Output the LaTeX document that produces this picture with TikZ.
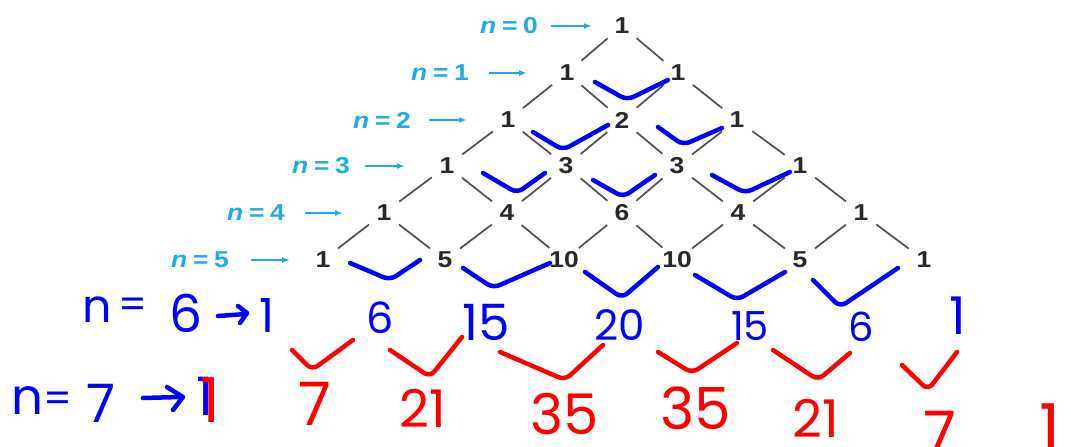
\documentclass[tikz,border=0pt]{standalone}
\usepackage{fontspec}
\usepackage{graphicx}
\setmainfont{Liberation Sans}
\newfontfamily\handfont{Poppins}
\usetikzlibrary{arrows.meta}
\definecolor{cyanlab}{RGB}{30,172,230}
\definecolor{numgray}{RGB}{40,40,40}
\definecolor{edgegray}{RGB}{80,80,80}
\definecolor{penblue}{RGB}{0,0,255}
\definecolor{penred}{RGB}{255,0,0}
\newcommand{\widetxt}[1]{\scalebox{1.15}[1]{#1}}
\begin{document}
\begin{tikzpicture}[x=1pt,y=-1pt,
  num/.style={inner sep=0pt, text=numgray, font=\fontsize{23}{23}\selectfont\bfseries},
  lab/.style={inner sep=0pt, text=cyanlab, font=\fontsize{23}{23}\selectfont\bfseries},
  triline/.style={draw=edgegray, line width=1.7pt, shorten <=19pt, shorten >=19pt},
  labarrow/.style={draw=cyanlab, line width=1.7pt, -{Latex[length=8pt,width=6pt]}},
  bluepen/.style={draw=penblue, line width=4.5pt, line cap=round, line join=round, rounded corners=7pt},
  redpen/.style={draw=penred, line width=4.5pt, line cap=round, line join=round, rounded corners=7pt},
  hb/.style={inner sep=0pt, text=penblue},
  hr/.style={inner sep=0pt, text=penred},
  hf/.style={font=\handfont\fontsize{#1}{#1}\selectfont}]
\clip (0,0) rectangle (1071,447);
\fill[white] (0,0) rectangle (1071,447);

% Pascal triangle numbers
\node[num] (r0-0) at (622,26) {\widetxt{1}};
\node[num] (r1-0) at (567,73) {\widetxt{1}};
\node[num] (r1-1) at (678,73) {\widetxt{1}};
\node[num] (r2-0) at (508,120) {\widetxt{1}};
\node[num] (r2-1) at (622,120) {\widetxt{2}};
\node[num] (r2-2) at (737,120) {\widetxt{1}};
\node[num] (r3-0) at (447,166) {\widetxt{1}};
\node[num] (r3-1) at (566,166) {\widetxt{3}};
\node[num] (r3-2) at (677,166) {\widetxt{3}};
\node[num] (r3-3) at (800,166) {\widetxt{1}};
\node[num] (r4-0) at (384,213) {\widetxt{1}};
\node[num] (r4-1) at (507,213) {\widetxt{4}};
\node[num] (r4-2) at (622,213) {\widetxt{6}};
\node[num] (r4-3) at (738,213) {\widetxt{4}};
\node[num] (r4-4) at (861,213) {\widetxt{1}};
\node[num] (r5-0) at (323,260) {\widetxt{1}};
\node[num] (r5-1) at (445,260) {\widetxt{5}};
\node[num] (r5-2) at (564,260) {\widetxt{10}};
\node[num] (r5-3) at (677,260) {\widetxt{10}};
\node[num] (r5-4) at (800,260) {\widetxt{5}};
\node[num] (r5-5) at (924,260) {\widetxt{1}};

% connecting lines
\foreach \r in {0,...,4} {
  \pgfmathtruncatemacro\rn{\r+1}
  \foreach \k in {0,...,\r} {
    \pgfmathtruncatemacro\kn{\k+1}
    \draw[triline] (r\r-\k.center) -- (r\rn-\k.center);
    \draw[triline] (r\r-\k.center) -- (r\rn-\kn.center);
  }
}

% row labels with arrows
\foreach \r/\lx/\ly/\sst/\sen in {0/509/26/13/30, 1/440/73/20/40, 2/382/120/18/41, 3/321/166/15/42, 4/256/213/20/41, 5/200/260/22/33} {
  \node[lab] (L\r) at (\lx,\ly) {\widetxt{\textit{n}\hspace{5pt}=\hspace{5pt}\r}};
  \draw[labarrow, shorten <=\sst pt, shorten >=\sen pt] (L\r.east) -- (r\r-0.center);
}

% blue hand-drawn checks
\draw[bluepen] (595,82) -- (627,100) -- (668,80);
\draw[bluepen] (533,132) -- (563,150) -- (608,125);
\draw[bluepen] (658,127) -- (683,145) -- (722,128);
\draw[bluepen] (483,173) -- (517,193) -- (545,173);
\draw[bluepen] (593,180) -- (623,197) -- (655,175);
\draw[bluepen] (712,175) -- (745,193) -- (790,172);
\draw[bluepen] (350,263) -- (390,280) -- (420,260);
\draw[bluepen] (463,268) -- (493,288) -- (550,263);
\draw[bluepen] (585,272) -- (622,298) -- (658,267);
\draw[bluepen] (695,275) -- (737,300) -- (785,272);
\draw[bluepen] (813,280) -- (840,307) -- (898,268);

% red hand-drawn checks
\draw[redpen] (292,350) -- (312,370) -- (353,340);
\draw[redpen] (390,350) -- (430,377) -- (462,337);
\draw[redpen] (500,352) -- (565,380) -- (603,345);
\draw[redpen] (658,352) -- (692,373) -- (737,343);
\draw[redpen] (773,350) -- (818,380) -- (850,353);
\draw[redpen] (902,365) -- (928,390) -- (957,352);

% blue handwritten row n = 6
\node[hb, hf=46] (n6n) at (97,310) {n};
\node[hb, hf=40] (n6eq) at (133,308) {=};
\node[hb, hf=52] (n6v) at (186,313) {6};
\node[hb, hf=47] (b1) at (267,316) {1};
\draw[bluepen, rounded corners=0pt] (218,316) -- (246,314);
\draw[bluepen, rounded corners=0pt] (238,306) -- (247,313) -- (240,323);
\node[hb, hf=43] (b6) at (380,318) {6};
\node[hb, hf=50] (b15) at (486,322) {15};
\node[hb, hf=42] (b20) at (620,325) {20};
\node[hb, hf=40] (b15b) at (750,326) {15};
\node[hb, hf=40] (b6b) at (861,327) {6};
\node[hb, hf=52] (b1b) at (958,316) {1};

% handwritten row n = 7
\node[hb, hf=50] (n7n) at (27,401) {n};
\node[hb, hf=40] (n7eq) at (58,402) {=};
\node[hb, hf=53] (n7v) at (101,403) {7};
\draw[bluepen, rounded corners=0pt] (143,398) -- (180,397);
\draw[bluepen, rounded corners=0pt] (167,387) -- (183,397) -- (173,410);
\node[hb, hf=53] (n7b) at (205,396) {1};
\node[hr, hf=62] (rr1) at (210,400) {1};
\node[hr, hf=60] (rr7) at (315,404) {7};
\node[hr, hf=52] (rr21) at (423,408) {21};
\node[hr, hf=56] (rr35) at (565,414) {35};
\node[hr, hf=58] (rr35b) at (696,408) {35};
\node[hr, hf=52] (rr21b) at (816,418) {21};
\node[hr, hf=60] (rr7b) at (940,433) {7};
\node[hr, hf=66] (rr1b) at (1050,428) {1};
\end{tikzpicture}
\end{document}
